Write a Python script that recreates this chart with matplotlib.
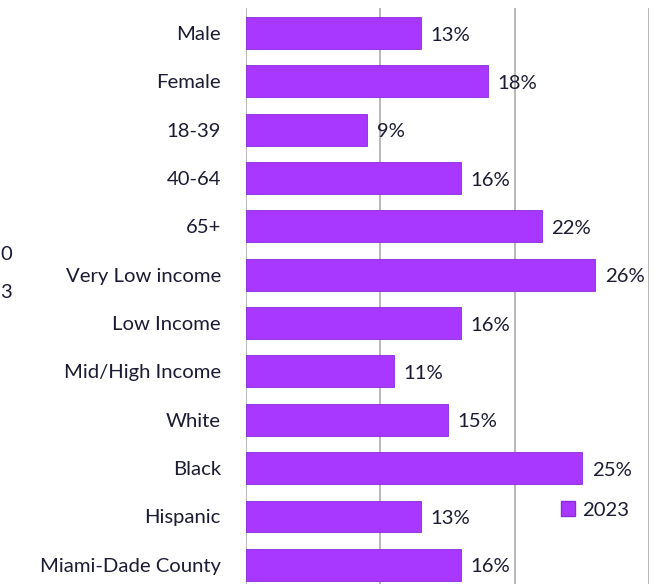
import matplotlib
matplotlib.use("Agg")
import matplotlib.pyplot as plt
from matplotlib.patches import Patch

categories = ["Male", "Female", "18-39", "40-64", "65+", "Very Low income",
              "Low Income", "Mid/High Income", "White", "Black", "Hispanic",
              "Miami-Dade County"]
values_2023 = [13, 18, 9, 16, 22, 26, 16, 11, 15, 25, 13, 16]
series_name = "2023"
edge_fragments = ["0", "3"]

BAR = "#A838FF"
EDGE = "#8A2BD8"
TXT = "#1B1B33"
GRID = "#ABABAB"
FONT = ["Lato", "DejaVu Sans"]
FS = 14.6

W, H = 662, 584
fig = plt.figure(figsize=(W / 100, H / 100), dpi=100)
ax = fig.add_axes([246 / W, 0, (649 - 246) / W, 1 - 8 / H])

y = list(range(len(categories)))
ax.barh(y, values_2023, height=0.66, color=BAR, edgecolor=EDGE, linewidth=0.6, zorder=3)
ax.set_xlim(0, 30)
ax.set_ylim((584 - 33) / 48.35, (8 - 33) / 48.35)
ax.set_xticks([0, 10, 20, 30])
ax.xaxis.grid(True, color=GRID, linewidth=1.2, zorder=0)
ax.tick_params(axis="x", length=0, labelbottom=False)
ax.set_yticks(y)
ax.set_yticklabels(categories, fontsize=FS, color=TXT, family=FONT)
ax.tick_params(axis="y", length=0, pad=18)
for s in ax.spines.values():
    s.set_visible(False)

for yi, v in zip(y, values_2023):
    ax.annotate(f"{v}%", (v, yi), xytext=(7, -1.5), textcoords="offset points",
                va="center", ha="left", fontsize=FS, color=TXT, family=FONT)

fig.legend(handles=[Patch(facecolor=BAR, edgecolor=EDGE, label=series_name)],
           loc="center left", bbox_to_anchor=(543 / W, 1 - 510 / H), frameon=False,
           prop={"family": FONT, "size": FS}, labelcolor=TXT,
           handlelength=0.7, handleheight=0.7, handletextpad=0.35)

# fragments of cut-off text at the left edge of the original
fig.text(0, 1 - 255 / H, edge_fragments[0], ha="left", va="center", fontsize=FS, color=TXT, family=FONT)
fig.text(0, 1 - 292 / H, edge_fragments[1], ha="left", va="center", fontsize=FS, color=TXT, family=FONT)

fig.savefig("out.png", dpi=100)
